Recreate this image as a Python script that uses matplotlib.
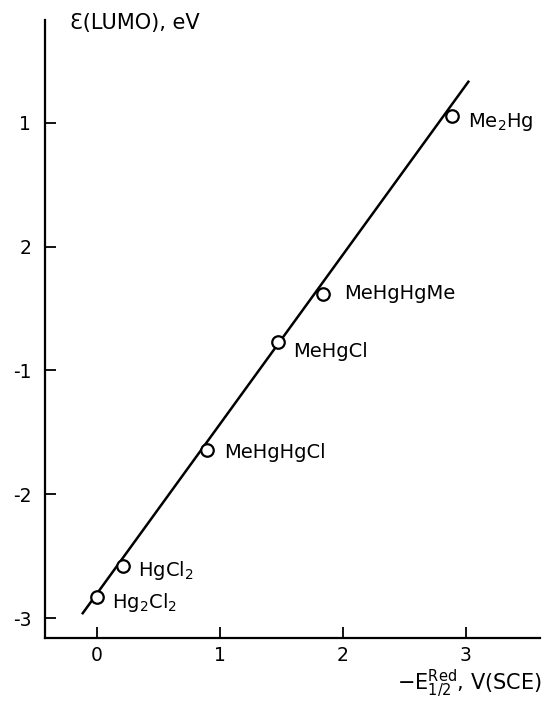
import matplotlib
matplotlib.use("Agg")
import matplotlib.pyplot as plt

# Data
compounds = ["Hg$_2$Cl$_2$", "HgCl$_2$", "MeHgHgCl", "MeHgCl", "MeHgHgMe", "Me$_2$Hg"]
e_red = [0.0, 0.21, 0.90, 1.47, 1.84, 2.89]           # -E1/2(Red), V (SCE)
e_lumo = [-2.83, -2.58, -1.64, -0.77, -0.38, 1.05]    # LUMO energy, eV

# correlation line drawn in the figure (end points)
fit_x = [-0.114, 3.02]
fit_y = [-2.96, 1.33]

x_ticks = [0, 1, 2, 3]
y_ticks = [1, 0, -1, -2, -3]
y_tick_labels = ["1", "2", "-1", "-2", "-3"]   # printed as in the original

# label offsets in points (style only)
label_offsets = [(11, -4), (11, -3), (12, -2), (11, -7), (15, 0), (11, -4)]

plt.rcParams["font.family"] = ["DejaVu Sans"]

fig = plt.figure(figsize=(5.43, 7.07), dpi=100)
ax = fig.add_axes([0.083, 0.0976, 0.911, 0.8744])

ax.plot(fit_x, fit_y, color="black", lw=1.8, zorder=2)
ax.plot(e_red, e_lumo, "o", ms=9, mfc="white", mec="black", mew=1.6, zorder=3)

for name, x, y, off in zip(compounds, e_red, e_lumo, label_offsets):
    ax.annotate(name, (x, y), xytext=off, textcoords="offset points",
                ha="left", va="center", fontsize=14)

ax.set_xlim(-0.42, 3.6)
ax.set_ylim(-3.16, 1.83)

ax.spines["top"].set_visible(False)
ax.spines["right"].set_visible(False)
ax.spines["left"].set_linewidth(1.6)
ax.spines["bottom"].set_linewidth(1.6)

ax.set_xticks(x_ticks)
ax.set_yticks(y_ticks)
ax.set_yticklabels(y_tick_labels)
ax.tick_params(direction="in", length=8, width=1.3, labelsize=13.5, pad=10)
ax.tick_params(axis="x", pad=6)

fig.text(0.129, 0.968, "Ɛ(LUMO), eV", fontsize=15, ha="left", va="center")
fig.text(0.998, 0.012, r"$-\mathrm{E}_{1/2}^{\mathrm{Red}}$, V(SCE)", fontsize=15,
         ha="right", va="bottom")

fig.savefig("out.png", dpi=100)
